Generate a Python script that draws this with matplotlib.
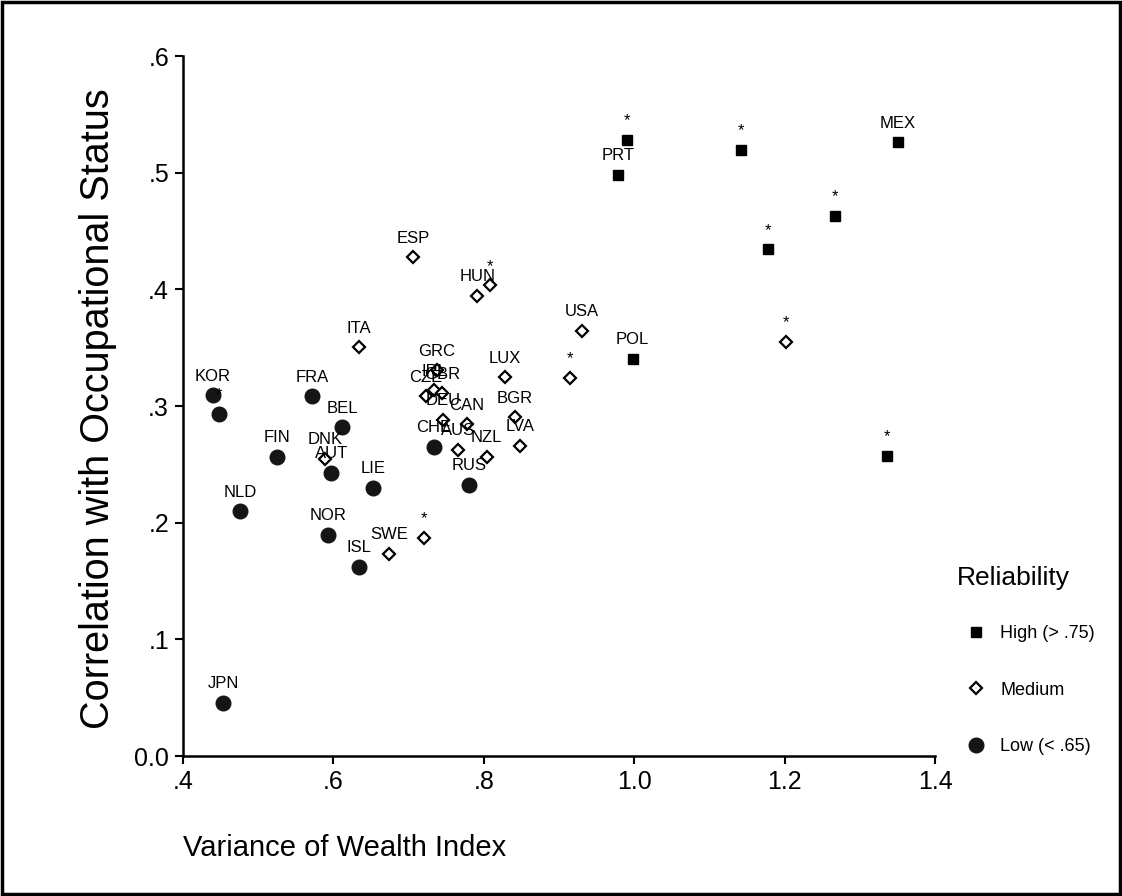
import matplotlib
matplotlib.use("Agg")
import matplotlib.pyplot as plt
from matplotlib.lines import Line2D
from matplotlib.patches import Rectangle

plt.rcParams['font.family'] = ['Liberation Sans', 'DejaVu Sans']

# ---- data ----
high_labels = ["*", "PRT", "*", "MEX", "*", "*", "*", "POL"]
high_x = [0.990, 0.979, 1.1425, 1.351, 1.2664, 1.1778, 1.3365, 0.998]
high_y = [0.528, 0.498, 0.5194, 0.526, 0.4632, 0.4343, 0.2571, 0.3405]

med_labels = ["ESP", "HUN", "*", "ITA", "GRC", "IRL", "CZE", "GBR", "DEU", "CAN",
              "AUS", "NZL", "LUX", "BGR", "LVA", "DNK", "USA", "*", "*", "SWE", "*"]
med_x = [0.706, 0.7916, 0.8084, 0.6335, 0.7375, 0.734, 0.7229, 0.7442, 0.7464, 0.7774,
         0.7658, 0.804, 0.8283, 0.8416, 0.8482, 0.5887, 0.9302, 0.9143, 1.2013, 0.6741, 0.7207]
med_y = [0.4275, 0.3947, 0.4033, 0.3504, 0.3305, 0.3134, 0.3085, 0.3108, 0.2883, 0.2842,
         0.2626, 0.2563, 0.3247, 0.2905, 0.2657, 0.2549, 0.3647, 0.3242, 0.3547, 0.1735, 0.1872]

low_labels = ["KOR", "*", "FRA", "BEL", "FIN", "AUT", "LIE", "NLD", "NOR", "ISL",
              "JPN", "CHE", "RUS"]
low_x = [0.4395, 0.4474, 0.5718, 0.6113, 0.5245, 0.5971, 0.6529, 0.4761, 0.5923, 0.6343,
         0.4536, 0.7332, 0.7805]
low_y = [0.3091, 0.2934, 0.3082, 0.2819, 0.2563, 0.2429, 0.2301, 0.2098, 0.1898, 0.1621,
         0.0456, 0.2648, 0.2326]

x_ticks = [0.4, 0.6, 0.8, 1.0, 1.2, 1.4]
x_ticklabels = [".4", ".6", ".8", "1.0", "1.2", "1.4"]
y_ticks = [0.0, 0.1, 0.2, 0.3, 0.4, 0.5, 0.6]
y_ticklabels = ["0.0", ".1", ".2", ".3", ".4", ".5", ".6"]

legend_labels = ["High (> .75)", "Medium", "Low (< .65)"]

# ---- figure ----
W, H = 1122, 896
fig = plt.figure(figsize=(W / 100, H / 100), dpi=100)
ax = fig.add_axes([183 / W, 140 / H, (935 - 183) / W, 700 / H])
ax.set_xlim(0.4, 1.4)
ax.set_ylim(0.0, 0.6)

for s in ("top", "right"):
    ax.spines[s].set_visible(False)
for s in ("left", "bottom"):
    ax.spines[s].set_linewidth(1.8)
    ax.spines[s].set_color("black")

ax.set_xticks(x_ticks)
ax.set_xticklabels(x_ticklabels)
ax.set_yticks(y_ticks)
ax.set_yticklabels(y_ticklabels)
ax.tick_params(direction="out", length=6, width=1.5, labelsize=18, pad=4, colors="black")

mk_high = dict(marker="s", markersize=7.5, color="black", linestyle="none", clip_on=False)
mk_med = dict(marker="D", markersize=6.5, markerfacecolor="white", markeredgecolor="black",
              markeredgewidth=1.6, linestyle="none", clip_on=False)
mk_low = dict(marker="o", markersize=10.5, color="#151515", linestyle="none", clip_on=False)

ax.plot(high_x, high_y, **mk_high, zorder=3)
ax.plot(med_x, med_y, **mk_med, zorder=3)
ax.plot(low_x, low_y, **mk_low, zorder=3)

def put_labels(names, xs, ys):
    for n, x, y in zip(names, xs, ys):
        ax.annotate(n, (x, y), xytext=(0, 10.5), textcoords="offset points",
                    ha="center", va="baseline", fontsize=12, color="black",
                    zorder=4, annotation_clip=False)

put_labels(high_labels, high_x, high_y)
put_labels(med_labels, med_x, med_y)
put_labels(low_labels, low_x, low_y)

# axis titles
fig.text(98 / W, 1 - 409 / H, "Correlation with Occupational Status", rotation=90,
         ha="center", va="center", fontsize=28.5)
fig.text(183 / W, 1 - 848 / H, "Variance of Wealth Index", ha="left", va="center",
         fontsize=21)

# legend
handles = [Line2D([], [], **mk_high), Line2D([], [], **mk_med), Line2D([], [], **mk_low)]
fig.text(1013 / W, 1 - 578 / H, "Reliability", ha="center", va="center", fontsize=19)
fig.legend(handles, legend_labels, loc="upper left", bbox_to_anchor=(966 / W, 1 - 625 / H),
           frameon=False, fontsize=13, handlelength=1.1, handletextpad=0.8,
           labelspacing=2.2, borderpad=0, borderaxespad=0)

# outer frame
fig.add_artist(Rectangle((2 / W, 2 / H), 1 - 4 / W, 1 - 4 / H, transform=fig.transFigure,
                         fill=False, edgecolor="black", linewidth=2.5))

fig.savefig("out.png", dpi=100, facecolor="white")
